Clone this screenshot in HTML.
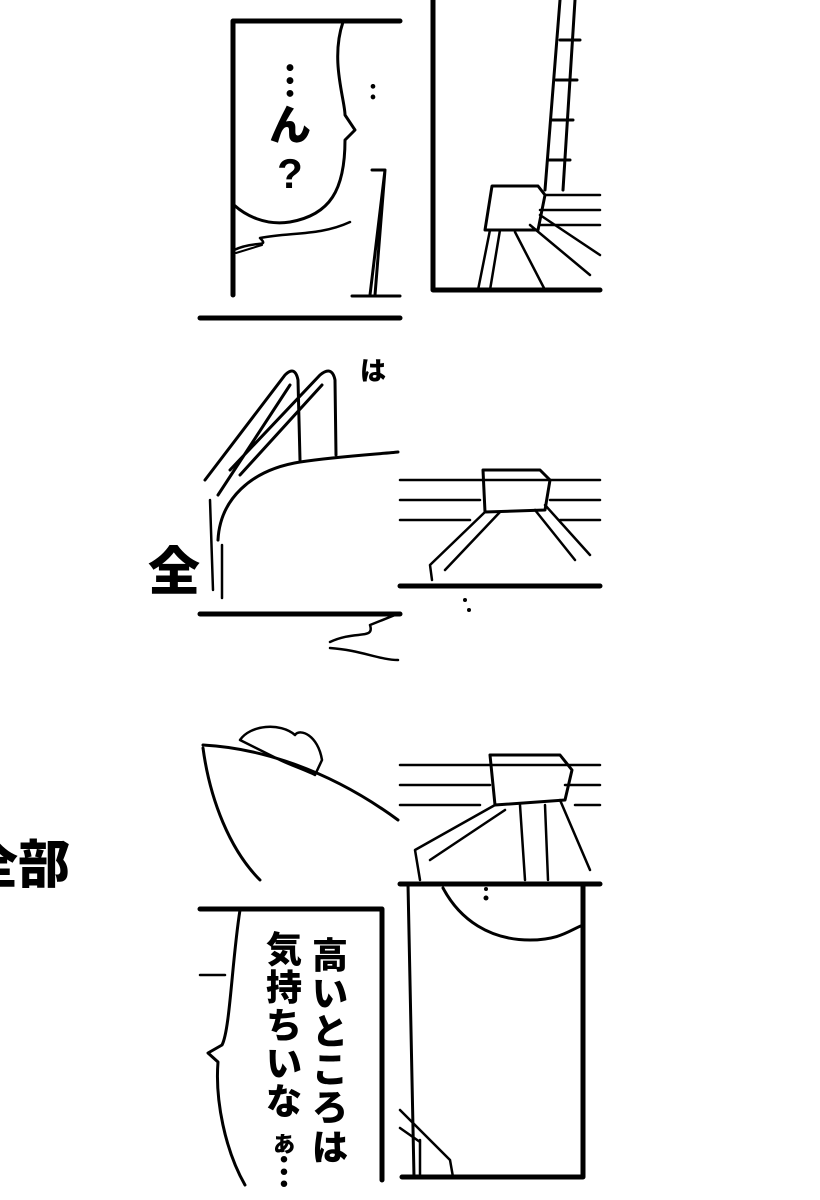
<!DOCTYPE html>
<html><head><meta charset="utf-8"><style>
html,body{margin:0;padding:0;background:#fff;}
svg{display:block}
text{font-family:"Liberation Sans","Noto Sans CJK JP",sans-serif;font-weight:900;fill:#000}
</style></head><body>
<svg width="820" height="1200" viewBox="0 0 820 1200" xmlns="http://www.w3.org/2000/svg">
<g fill="none" stroke="#000" stroke-linecap="round" stroke-linejoin="round">
<path d="M400 21 H233 V295" stroke-width="5"/>
<path d="M343 22 C330 60 345 100 345 115 L355 130 L345 140 C345 190 330 215 290 222 C265 226 245 215 234 205" stroke-width="3"/>
<path d="M234 250 C255 240 270 248 260 238 C290 232 320 236 350 222" stroke-width="2.5"/>
<path d="M236 253 L262 245" stroke-width="2"/>
<path d="M372 170 L385 170 L370 295 M385 170 L375 295" stroke-width="3"/>
<path d="M352 296 H400" stroke-width="3"/>
<path d="M433 0 V290 H600" stroke-width="5"/>
<path d="M560 0 L545 190 M575 0 L563 190 M560 40 H580 M556 80 H577 M552 120 H573 M549 160 H570" stroke-width="3"/>
<path d="M492 186 L538 186 L545 195 L538 230 L485 230 Z" stroke-width="3"/>
<path d="M545 195 H600 M540 210 H600 M540 225 H600" stroke-width="2.5"/>
<path d="M490 230 L478 290 M500 230 L490 290 M515 232 L545 290 M530 225 L590 275 M540 215 L600 255" stroke-width="2.5"/>
<path d="M200 318 H400" stroke-width="5"/>
<path d="M200 614 H400" stroke-width="5"/>
<path d="M205 480 L285 375 Q295 365 298 380 L300 460 M218 495 L290 385 M230 470 L320 375 Q332 365 335 380 L336 455 M240 475 L322 385" stroke-width="3"/>
<path d="M218 540 C220 500 250 470 300 462 C340 456 380 454 398 452" stroke-width="3"/>
<path d="M213 590 L210 500 M222 598 L222 545" stroke-width="2.5"/>
<path d="M330 642 C355 630 375 640 370 625 L395 615 M330 648 C360 650 380 660 398 660" stroke-width="2.5"/>
<path d="M203 745 C260 748 330 770 398 820" stroke-width="3"/>
<path d="M203 748 C210 800 230 850 260 880" stroke-width="3"/>
<path d="M240 740 C250 725 280 722 295 735 C300 728 318 735 322 760 L315 775 C305 770 290 765 280 760 Z" stroke-width="2.5"/>
<path d="M400 480 H600 M400 500 H480 M550 500 H600 M400 520 H470 M560 520 H600" stroke-width="2.5"/>
<path d="M483 470 L540 470 L550 480 L545 510 L485 512 Z" stroke-width="3"/>
<path d="M485 512 L430 565 L432 580 M500 512 L445 570 M535 510 L575 560 M545 505 L590 555" stroke-width="2.5"/>
<path d="M400 586 H600" stroke-width="5"/>
<path d="M400 765 H600 M400 785 H490 M565 785 H600 M400 805 H480 M575 805 H600" stroke-width="2.5"/>
<path d="M490 755 L560 755 L572 770 L565 800 L495 805 Z" stroke-width="3"/>
<path d="M495 805 L415 850 L420 880 M505 810 L430 860 M520 805 L525 880 M545 805 L548 880 M560 800 L590 870" stroke-width="2.5"/>
<path d="M400 884 H600" stroke-width="5"/>
<path d="M583 884 V1177 H402" stroke-width="5"/>
<path d="M408 884 L414 1177" stroke-width="3"/>
<path d="M443 888 C460 920 490 940 530 940 C560 940 570 930 583 925" stroke-width="3"/>
<path d="M400 1110 L450 1160 L453 1177 M400 1128 L420 1142 M420 1140 L420 1177" stroke-width="2.5"/>
<path d="M200 909 H382 V1180" stroke-width="5"/>
<path d="M240 910 C232 960 230 1030 222 1045 L208 1053 L218 1062 C215 1100 225 1150 245 1185" stroke-width="3"/>
<path d="M200 975 L225 975" stroke-width="2.5"/>
</g>
<g fill="#000">
<circle cx="486" cy="898" r="2.5"/><circle cx="486" cy="889" r="2"/>
<circle cx="465" cy="600" r="2"/><circle cx="469" cy="610" r="2"/>
</g>
<g font-size="42">
<text x="290" y="95" text-anchor="middle" font-size="38">︙</text>
<text x="290" y="140" text-anchor="middle">ん</text>
<text x="290" y="188" text-anchor="middle">?</text>
</g>
<text x="362" y="100" font-size="22" font-weight="400">：</text>
<text x="360" y="380" font-size="26" font-weight="400">は</text>
<text x="148" y="590" font-size="52">全</text>
<text x="-34" y="883" font-size="52">全部</text>
<g font-size="36" text-anchor="middle">
<text x="330" y="968">高</text><text x="330" y="1006">い</text><text x="330" y="1044">と</text>
<text x="330" y="1082">こ</text><text x="330" y="1120">ろ</text><text x="330" y="1160">は</text>
<text x="284" y="962">気</text><text x="284" y="1000">持</text><text x="284" y="1038">ち</text>
<text x="284" y="1076">い</text><text x="284" y="1114">な</text><text x="284" y="1152" font-size="26">ぁ</text>
<text x="284" y="1185">︙</text>
</g>
</svg>
</body></html>
